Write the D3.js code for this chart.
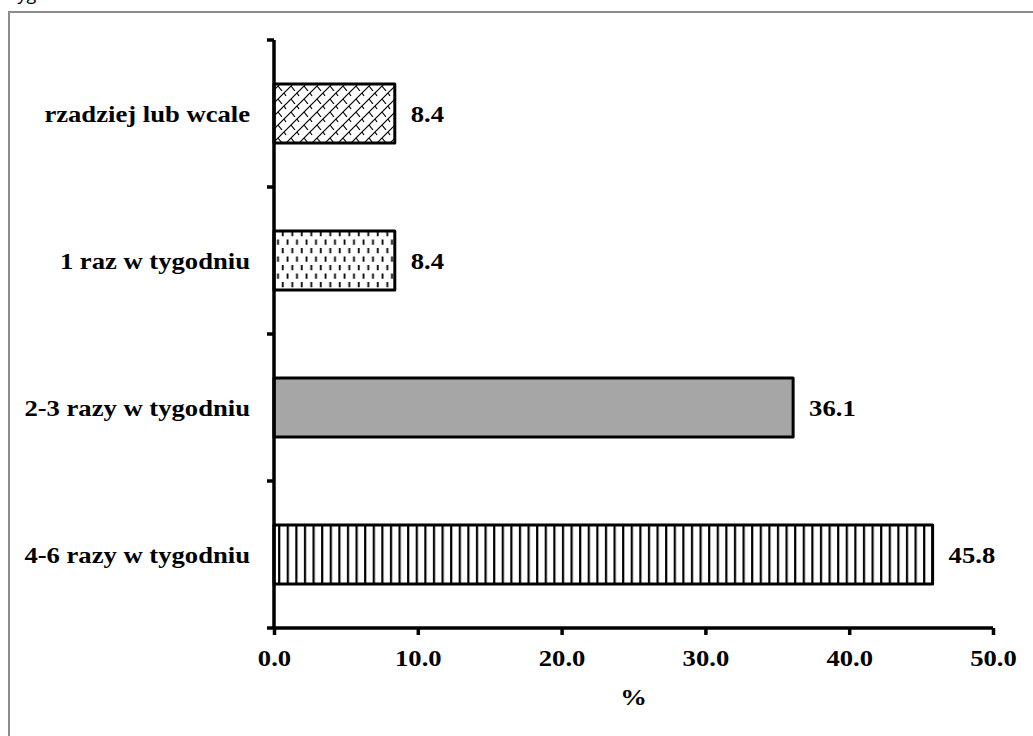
<!DOCTYPE html>
<html>
<head>
<meta charset="utf-8">
<script src="https://cdn.jsdelivr.net/npm/d3@7"></script>
<style>
    body { margin: 0; background: #fff; }
</style>
</head>
<body>
<section></section>
<script>
//Chart data, top bar first
const categories = ["rzadziej lub wcale", "1 raz w tygodniu", "2-3 razy w tygodniu", "4-6 razy w tygodniu"];
const values = [8.4, 8.4, 36.1, 45.8];
const xTicks = [0, 10, 20, 30, 40, 50];
const axisTitle = "%";

let width = 1033;
let height = 736;
const serif = "Liberation Serif, Times New Roman, serif";
//The original text is a bit wider than the font, so it gets stretched
const stretch = "scale(1.11,1)";

let svg = d3
    .select("section")
    .append("svg")
    .attr("width", width)
    .attr("height", height);

//Frame of the picture, cut off at the right and bottom
svg.append("path")
    .attr("d", `M9,${height} V12 H${width}`)
    .attr("fill", "none")
    .attr("stroke", "#8c8c8c")
    .attr("stroke-width", 2);

//Piece of the caption above, mostly cut off like in the original
svg.append("text")
    .attr("x", 11)
    .attr("y", 0)
    .attr("font-family", "Open Sans, sans-serif")
    .attr("font-size", "18px")
    .attr("fill", "#000")
    .text("tygodniu");

//Fill patterns for the bars
const defs = svg.append("defs");

//Shingle pattern
let shingle = defs.append("pattern")
    .attr("id", "shingle")
    .attr("patternUnits", "userSpaceOnUse")
    .attr("width", 13)
    .attr("height", 13);
shingle.append("rect").attr("width", 13).attr("height", 13).attr("fill", "#fff");
shingle.append("path")
    .attr("d", "M0,13 L13,0 M-3,3 L3,-3 M10,16 L16,10 M5,8 L9,13 M11,2 L13,5 M-2,2 L0,5")
    .attr("stroke", "#000")
    .attr("stroke-width", 1.2)
    .attr("fill", "none");

//Staggered short dashes pattern
let dashes = defs.append("pattern")
    .attr("id", "dashes")
    .attr("patternUnits", "userSpaceOnUse")
    .attr("width", 9.5)
    .attr("height", 17);
dashes.append("rect").attr("width", 9.5).attr("height", 17).attr("fill", "#fff");
dashes.append("path")
    .attr("d", "M2.5,1.5 V6.8 M7.3,10 V15.3")
    .attr("stroke", "#000")
    .attr("stroke-width", 1.8);

//Vertical lines pattern
let vlines = defs.append("pattern")
    .attr("id", "vlines")
    .attr("patternUnits", "userSpaceOnUse")
    .attr("width", 8.6)
    .attr("height", 10);
vlines.append("rect").attr("width", 8.6).attr("height", 10).attr("fill", "#fff");
vlines.append("line")
    .attr("x1", 4).attr("x2", 4)
    .attr("y1", 0).attr("y2", 10)
    .attr("stroke", "#000")
    .attr("stroke-width", 2.2);

const fills = ["url(#shingle)", "url(#dashes)", "#a6a6a6", "url(#vlines)"];

//Scales
const xScale = d3
    .scaleLinear()
    .domain([0, 50])
    .range([274, 993]);

const yScale = d3
    .scaleBand()
    .domain(categories)
    .range([40, 628])
    .paddingInner(0.6)
    .paddingOuter(0.3);

//Bars
svg.selectAll("rect.bar")
    .data(values)
    .enter()
    .append("rect")
    .attr("class", "bar")
    .attr("x", xScale(0))
    .attr("y", (d, i) => yScale(categories[i]))
    .attr("width", d => xScale(d) - xScale(0))
    .attr("height", yScale.bandwidth())
    .attr("fill", (d, i) => fills[i])
    .attr("stroke", "#000")
    .attr("stroke-width", 3)
    .attr("stroke-linejoin", "round");

//Value labels
svg.selectAll("text.value")
    .data(values)
    .enter()
    .append("text")
    .attr("class", "value")
    .attr("transform", (d, i) => `translate(${xScale(d) + 16},${yScale(categories[i]) + yScale.bandwidth() / 2 + 8}) ${stretch}`)
    .attr("font-family", serif)
    .attr("font-weight", "bold")
    .attr("font-size", "24px")
    .text(d => d.toFixed(1));

//Category labels
svg.selectAll("text.cat")
    .data(categories)
    .enter()
    .append("text")
    .attr("class", "cat")
    .attr("transform", d => `translate(250,${yScale(d) + yScale.bandwidth() / 2 + 8}) ${stretch}`)
    .attr("text-anchor", "end")
    .attr("font-family", serif)
    .attr("font-weight", "bold")
    .attr("font-size", "24px")
    .text(d => d);

//Y axis with ticks between categories
const yRange = yScale.range();
svg.append("line")
    .attr("x1", xScale(0)).attr("x2", xScale(0))
    .attr("y1", yRange[0]).attr("y2", yRange[1])
    .attr("stroke", "#000")
    .attr("stroke-width", 3.5);

svg.selectAll("line.ytick")
    .data(d3.range(categories.length))
    .enter()
    .append("line")
    .attr("class", "ytick")
    .attr("x1", xScale(0) - 7).attr("x2", xScale(0))
    .attr("y1", i => yRange[0] + i * yScale.step())
    .attr("y2", i => yRange[0] + i * yScale.step())
    .attr("stroke", "#000")
    .attr("stroke-width", 3.5);

//X axis
const xAxis = d3.axisBottom(xScale)
    .tickValues(xTicks)
    .tickSize(7)
    .tickSizeOuter(0)
    .tickFormat(d => d.toFixed(1));

let xg = svg.append("g")
    .attr("transform", `translate(0,${yRange[1]})`)
    .call(xAxis);

xg.select(".domain")
    .attr("d", `M${xScale(0) - 7},0 H${xScale(50)}`)
    .attr("stroke-width", 3.5);
xg.selectAll(".tick line").attr("stroke-width", 3.5);
xg.selectAll(".tick text")
    .attr("y", 21)
    .attr("transform", stretch)
    .attr("font-family", serif)
    .attr("font-weight", "bold")
    .attr("font-size", "24px")
    .attr("fill", "#000");

//Axis title
svg.append("text")
    .attr("transform", `translate(${(xScale(0) + xScale(50)) / 2},705) ${stretch}`)
    .attr("text-anchor", "middle")
    .attr("font-family", serif)
    .attr("font-weight", "bold")
    .attr("font-size", "24px")
    .text(axisTitle);
</script>
</body>
</html>
